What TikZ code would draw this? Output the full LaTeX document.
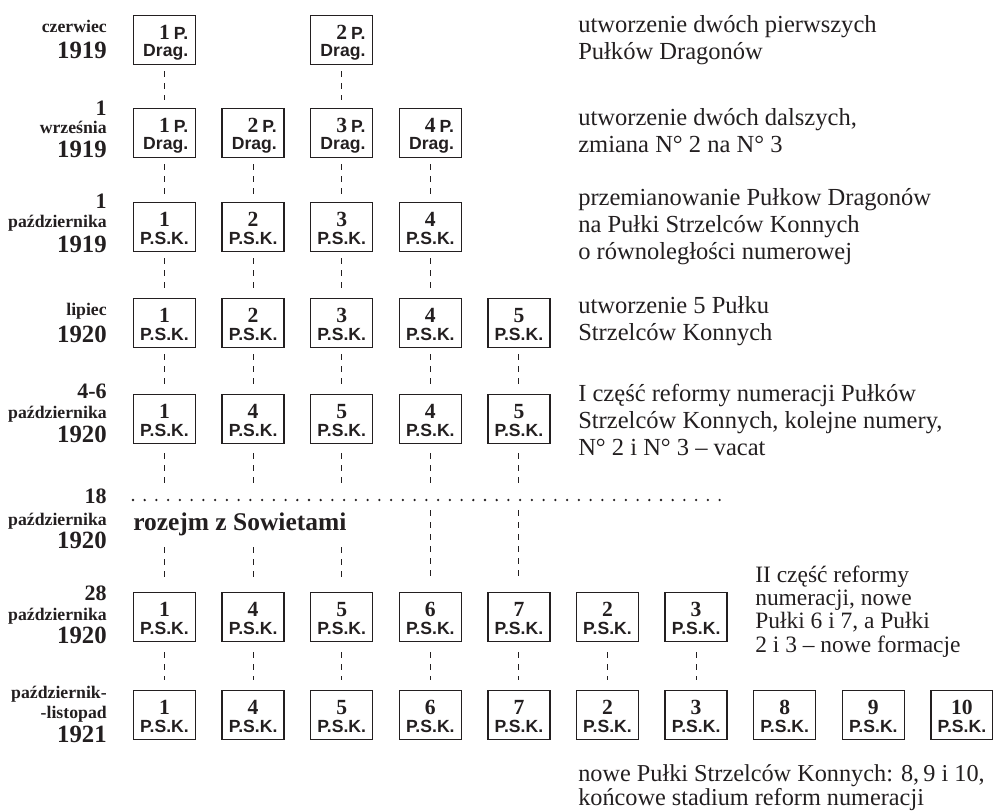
\documentclass[tikz,border=0pt]{standalone}
\usepackage{fontspec}
\setmainfont{Liberation Serif}
\newfontfamily\sansfam{Liberation Sans}
\definecolor{ink}{RGB}{35,31,32}
\newcommand\bnumfont{\rmfamily\bfseries\fontsize{16.2}{18}\selectfont}
\newcommand\bskfont{\sansfam\bfseries\fontsize{13.2}{15}\selectfont}
\newcommand\pskbox[4]{%
  \pgfmathsetmacro\cx{164.5+88.6*(#2-1)}%
  \node[unit] (#1) at (\cx,#3) {};
  \node[bnum] (#1-n) at (\cx,#3-0.3) {#4};
  \node[bsk] (#1-s) at (\cx,#3+17) {P.S.K.};
}
\newcommand\dragbox[4]{%
  \pgfmathsetmacro\cx{164.5+88.6*(#2-1)}%
  \pgfmathsetmacro\rx{\cx+24}%
  \node[unit] (#1) at (\cx,#3) {};
  \node[dragl] (#1-n) at (\rx,#3-0.7) {{\bnumfont #4}\hspace{3pt}P.};
  \node[dragl] (#1-s) at (\rx,#3+16.7) {Drag.};
}
\begin{document}
\begin{tikzpicture}[x=0.75pt,y=-0.75pt,
  unit/.style={draw=ink, line width=1.1pt, minimum width=46.5pt, minimum height=36.75pt, inner sep=0},
  bnum/.style={anchor=base, inner sep=0, text=ink, font=\bnumfont},
  bsk/.style={anchor=base, inner sep=0, text=ink, font=\bskfont},
  dragl/.style={anchor=base east, inner sep=0, text=ink, font=\bskfont},
  conn/.style={draw=ink, line width=0.85pt, dash pattern=on 4.5pt off 4.5pt, shorten <=4.5pt, shorten >=6pt},
  dotline/.style={draw=ink, line width=1.9pt, line cap=round, dash pattern=on 0pt off 8.8pt},
  desc/.style={anchor=base west, inner sep=0, text=ink, font=\fontsize{18.4}{20.25}\selectfont},
  mon/.style={anchor=base east, inner sep=0, text=ink, font=\bfseries\fontsize{13.3}{15}\selectfont},
  yr/.style={anchor=base east, inner sep=0, text=ink, font=\bfseries\fontsize{18.6}{21}\selectfont},
  dayf/.style={anchor=base east, inner sep=0, text=ink, font=\bfseries\fontsize{16.5}{18}\selectfont},
  rozf/.style={anchor=base west, inner sep=0, text=ink, font=\bfseries\fontsize{19.1}{22}\selectfont}]
\useasboundingbox (0,0) rectangle (993,811);

% ---- left date labels
\node[mon] (l1m) at (107,32) {czerwiec};
\node[yr]  (l1y) at (107,58) {1919};
\node[dayf] (l2d) at (107,115) {1};
\node[mon] (l2m) at (107,133) {września};
\node[yr]  (l2y) at (107,157) {1919};
\node[dayf] (l3d) at (107,208) {1};
\node[mon] (l3m) at (107,227) {października};
\node[yr]  (l3y) at (107,252) {1919};
\node[mon] (l4m) at (107,315) {lipiec};
\node[yr]  (l4y) at (107,342) {1920};
\node[dayf] (l5d) at (107,398) {4-6};
\node[mon] (l5m) at (107,418) {października};
\node[yr]  (l5y) at (107,442) {1920};
\node[dayf] (l6d) at (107,503) {18};
\node[mon] (l6m) at (107,525) {października};
\node[yr]  (l6y) at (107,548) {1920};
\node[dayf] (l7d) at (107,600) {28};
\node[mon] (l7m) at (107,620) {października};
\node[yr]  (l7y) at (107,643) {1920};
\node[mon] (l8m) at (107,698) {październik-};
\node[mon] (l8n) at (107,718) {-listopad};
\node[yr]  (l8y) at (107,742) {1921};

% ---- boxes
\dragbox{r1c1}{1}{40}{1}
\dragbox{r1c3}{3}{40}{2}
\foreach \i in {1,...,4} {\dragbox{r2c\i}{\i}{133}{\i}}
\foreach \i in {1,...,4} {\pskbox{r3c\i}{\i}{227}{\i}}
\foreach \i in {1,...,5} {\pskbox{r4c\i}{\i}{323}{\i}}
\foreach \n [count=\i] in {1,4,5,4,5} {\pskbox{r5c\i}{\i}{419}{\n}}
\foreach \n [count=\i] in {1,4,5,6,7,2,3} {\pskbox{r7c\i}{\i}{617}{\n}}
\foreach \n [count=\i] in {1,4,5,6,7,2,3,8,9,10} {\pskbox{r8c\i}{\i}{715}{\n}}

% ---- connectors
\draw[conn] (r1c1.south) -- (r2c1.north);
\draw[conn] (r1c3.south) -- (r2c3.north);
\foreach \i in {1,...,4} {\draw[conn] (r2c\i.south) -- (r3c\i.north);}
\foreach \i in {1,...,4} {\draw[conn] (r3c\i.south) -- (r4c\i.north);}
\foreach \i in {1,...,5} {\draw[conn] (r4c\i.south) -- (r5c\i.north);}
\foreach \i/\yb in {1/547,2/547,3/547,4/510,5/510} {
  \pgfmathsetmacro\cx{164.5+88.6*(\i-1)}
  \coordinate (a\i) at (\cx,488);
  \coordinate (b\i) at (\cx,\yb);
  \draw[conn, shorten <=6.75pt, shorten >=0pt] (r5c\i.south) -- (a\i);
  \draw[conn, shorten <=0pt, shorten >=7.5pt] (b\i) -- (r7c\i.north);
}
\foreach \i in {1,...,7} {\draw[conn, shorten <=7.5pt, shorten >=7.5pt] (r7c\i.south) -- (r8c\i.north);}

% ---- truce line
\coordinate (dotL) at (133,500);
\coordinate (dotR) at (723,500);
\draw[dotline] (dotL) -- (dotR);
\node[rozf] (rozejm) at (133,530) {rozejm z Sowietami};

% ---- descriptions
\node[desc] (d1) at (578,32) {\begin{tabular}[t]{@{}l@{}}utworzenie dwóch pierwszych\\Pułków Dragonów\end{tabular}};
\node[desc] (d2) at (578,125) {\begin{tabular}[t]{@{}l@{}}utworzenie dwóch dalszych,\\zmiana N° 2 na N° 3\end{tabular}};
\node[desc] (d3) at (578,205) {\begin{tabular}[t]{@{}l@{}}przemianowanie Pułkow Dragonów\\na Pułki Strzelców Konnych\\o równoległości numerowej\end{tabular}};
\node[desc] (d4) at (578,313) {\begin{tabular}[t]{@{}l@{}}utworzenie 5 Pułku\\Strzelców Konnych\end{tabular}};
\node[desc] (d5) at (578,401) {\begin{tabular}[t]{@{}l@{}}I część reformy numeracji Pułków\\Strzelców Konnych, kolejne numery,\\N° 2 i N° 3 – vacat\end{tabular}};
\node[desc, font=\fontsize{17.6}{17.6}\selectfont] (d7) at (755,582) {\begin{tabular}[t]{@{}l@{}}II część reformy\\numeracji, nowe\\Pułki 6 i 7, a Pułki\\2 i 3 – nowe formacje\end{tabular}};
\node[desc, font=\fontsize{18.2}{18}\selectfont] (d8) at (578,781) {\begin{tabular}[t]{@{}l@{}}nowe Pułki Strzelców Konnych: 8,\,9 i 10,\\końcowe stadium reform numeracji\end{tabular}};
\end{tikzpicture}
\end{document}
